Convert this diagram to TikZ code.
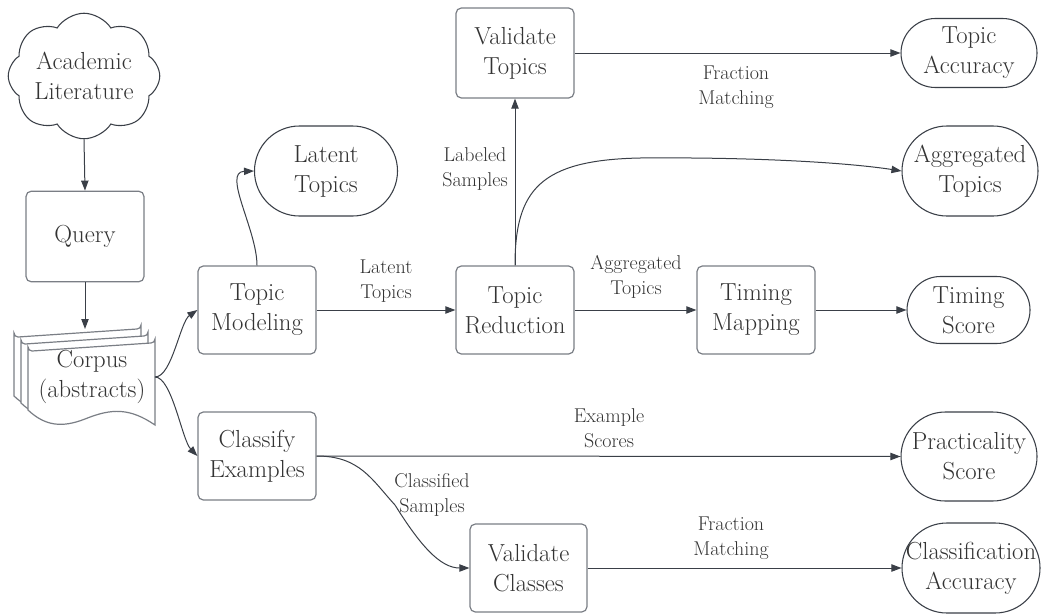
\documentclass[tikz,border=0pt]{standalone}
\usetikzlibrary{arrows.meta,shapes.symbols}
\definecolor{txt}{HTML}{333333}
\definecolor{edge}{HTML}{3A3F47}
\definecolor{boxline}{HTML}{7A7E85}
\definecolor{stline}{HTML}{3A3F47}
\begin{document}
\begin{tikzpicture}[x=0.75pt,y=-0.75pt,
  txtfont/.style={font=\fontsize{18.5}{22.5}\selectfont, text=txt, align=center},
  lblfont/.style={font=\fontsize{15}{18.75}\selectfont, text=txt, align=center, inner sep=0pt},
  procbox/.style={txtfont, draw=boxline, line width=0.9pt, rounded corners=4pt, fill=white, inner sep=0pt},
  stad/.style={txtfont, draw=stline, line width=0.8pt, fill=white, inner sep=0pt},
  arr/.style={draw=edge, line width=0.75pt, -{Triangle[length=7.5pt,width=5.5pt]}},
  sheet/.style={draw=boxline, line width=0.9pt, fill=white}
]
\useasboundingbox (0,0) rectangle (1041,614);

% cloud
\node[cloud, cloud puffs=8, cloud puff arc=115, aspect=1.35, draw=stline, line width=0.8pt,
  minimum width=104pt, minimum height=72pt, txtfont, inner sep=0pt] (cloud) at (84,76) {Academic\\Literature};

% query
\node[procbox, minimum width=88.5pt, minimum height=68pt] (query) at (85,236.5) {Query};

% corpus stack
\foreach \d in {14,7,0}{
  \draw[sheet, shift={(-\d,-\d)}]
    (28,410) -- (28,347) arc[start angle=180,end angle=90,radius=4] -- (151,343)
    arc[start angle=90,end angle=0,radius=4] -- (155,425)
    .. controls (130,408) and (112,408) .. (85,419)
    .. controls (62,428) and (45,426) .. (28,410) -- cycle;
}
\node[txtfont, inner sep=0pt] (corpus) at (92,377) {Corpus\\(abstracts)};
\coordinate (corpusR) at (155,377);
\coordinate (corpusT) at (85,329);

% process boxes
\node[procbox, minimum width=88.5pt, minimum height=66pt] (tm) at (257,310) {Topic\\Modeling};
\node[procbox, minimum width=88.5pt, minimum height=66pt] (tr) at (515,310) {Topic\\Reduction};
\node[procbox, minimum width=88.5pt, minimum height=67.5pt] (vt) at (515,53) {Validate\\Topics};
\node[procbox, minimum width=88.5pt, minimum height=66pt] (tmap) at (756,310) {Timing\\Mapping};
\node[procbox, minimum width=88.5pt, minimum height=66pt] (ce) at (257,456) {Classify\\Examples};
\node[procbox, minimum width=87.75pt, minimum height=66pt] (vc) at (528.5,568) {Validate\\Classes};

% stadiums
\node[stad, rounded corners=33.7pt, minimum width=107.25pt, minimum height=67.5pt] (lt) at (326,171) {Latent\\Topics};
\node[stad, rounded corners=25.8pt, minimum width=102pt, minimum height=51.75pt] (ta) at (969,53) {Topic\\Accuracy};
\node[stad, rounded corners=33.7pt, minimum width=102pt, minimum height=67.5pt] (agg) at (970,171) {Aggregated\\Topics};
\node[stad, rounded corners=25.1pt, minimum width=92.25pt, minimum height=50.25pt] (ts) at (968.5,310) {Timing\\Score};
\node[stad, rounded corners=33.3pt, minimum width=102pt, minimum height=66.75pt] (ps) at (969,456.5) {Practicality\\Score};
\node[stad, rounded corners=33.7pt, minimum width=103.5pt, minimum height=67.5pt] (ca) at (971,568) {Classification\\Accuracy};

% edges
\draw[arr] (cloud.south) -- (query.north);
\draw[arr] (query.south) -- (corpusT);
\draw[arr] (corpusR) .. controls (172,377) and (180,322) .. (tm.west);
\draw[arr] (corpusR) .. controls (172,377) and (182,440) .. (ce.west);
\draw[arr] (tm.north) .. controls (257,230) and (222,172) .. (lt.west);
\draw[arr] (tm.east) -- (tr.west);
\draw[arr] (tr.north) -- (vt.south);
\draw[arr] (tr.north) .. controls (515,190) and (540,160) .. (640,158)
                      .. controls (760,157) and (850,163) .. (agg.west);
\draw[arr] (tr.east) -- (tmap.west);
\draw[arr] (tmap.east) -- (ts.west);
\draw[arr] (vt.east) -- (ta.west);
\draw[arr] (ce.east) -- (ps.west);
\draw[arr] (ce.east) .. controls (360,456) and (372,480) .. (395,505)
                     .. controls (420,545) and (440,568) .. (vc.west);
\draw[arr] (vc.east) -- (ca.west);

% edge labels
\node[lblfont] (l1) at (386,281) {Latent\\Topics};
\node[lblfont] (l2) at (636,277) {Aggregated\\Topics};
\node[lblfont] (l3) at (475,169) {Labeled\\Samples};
\node[lblfont] (l4) at (736,87) {Fraction\\Matching};
\node[lblfont] (l5) at (609,428) {Example\\Scores};
\node[lblfont] (l6) at (432,495) {Classified\\Samples};
\node[lblfont] (l7) at (731,538) {Fraction\\Matching};
\end{tikzpicture}
\end{document}
